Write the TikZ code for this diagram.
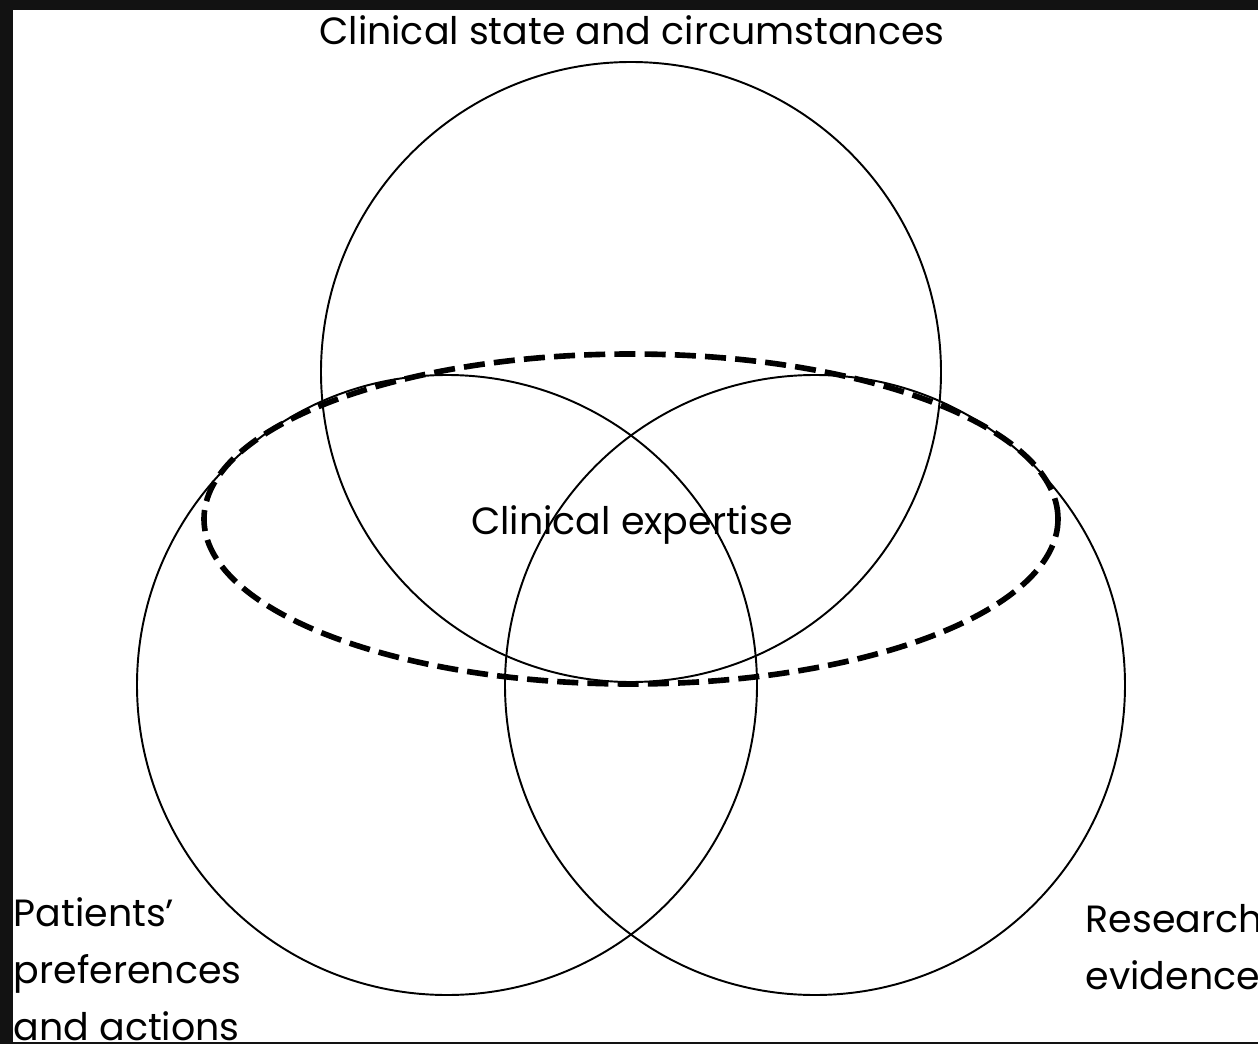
\documentclass[tikz,border=0pt]{standalone}
\usepackage{fontspec}
\setmainfont{Poppins}
\usepackage{tikz}
\usetikzlibrary{positioning, calc}

\tikzset{
  venn/.style={line width=0.55pt},
  expertise/.style={line width=1.6pt, dash pattern=on 6pt off 2.6pt},
  label/.style={font=\fontsize{10.8}{16.2}\selectfont, inner sep=0pt}
}

\begin{document}
\begin{tikzpicture}
  % Frame
  \fill[black!93] (0,0) rectangle (12.58,10.44);
  \useasboundingbox (0,0) rectangle (12.58,10.44);
  \begin{scope}
  \clip (0.13,0.02) rectangle (12.58,10.34);
  \fill[white] (0.13,0.02) rectangle (12.58,10.34);

  % Circle centres
  \coordinate (S) at (6.31,6.72);
  \coordinate (P) at (4.47,3.59);
  \coordinate (R) at (8.15,3.59);
  \coordinate (E) at (6.31,5.25);

  % Draw circles
  \draw[venn] (S) circle (3.10);
  \draw[venn] (P) circle (3.10);
  \draw[venn] (R) circle (3.10);

  % Clinical expertise
  \draw[expertise] (E) ellipse (4.27 and 1.65);

  % Labels
  \node[label] (state) at (6.32,10.14) {Clinical state and circumstances};
  \node[label] (expert) at (6.32,5.19) {Clinical expertise};
  \node[label, align=left, anchor=north west] (patients) at (0.13,1.47)
    {Patients’\\preferences\\and actions};
  \node[label, align=left, anchor=north west] (research) at (10.85,1.40)
    {Research\\evidence};
  \end{scope}
\end{tikzpicture}
\end{document}
